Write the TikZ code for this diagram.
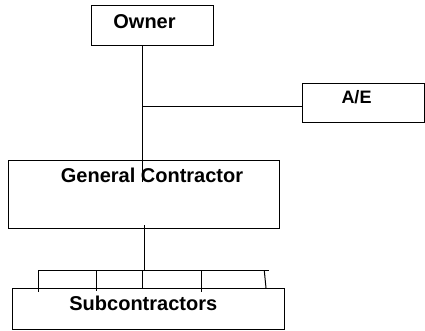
\documentclass[tikz,border=0pt]{standalone}
\usepackage{fontspec}
\setmainfont{Liberation Sans}
\begin{document}
\begin{tikzpicture}[x=1pt,y=-1pt,
  box/.style={draw=black,line width=1pt,inner sep=0pt,outer sep=0pt,fill=none},
  lbl/.style={inner sep=0pt,anchor=base,font=\fontsize{20}{23}\selectfont\bfseries},
  lblsmall/.style={inner sep=0pt,anchor=base,font=\fontsize{18}{21}\selectfont\bfseries},
  conn/.style={draw=black,line width=1pt}]
\useasboundingbox (0,0) rectangle (425,331);
% boxes
\node[box,minimum width=122pt,minimum height=40pt] (owner) at (152,26) {};
\node[box,minimum width=122pt,minimum height=39pt] (ae) at (363,103.5) {};
\node[box,minimum width=271pt,minimum height=67pt] (gc) at (143.5,194.5) {};
\node[box,minimum width=272pt,minimum height=41pt] (sub) at (148,308.5) {};
% labels
\node[lbl] (towner) at (144.5,28.3) {Owner};
\node[lblsmall] (tae) at (356.5,104) {A/E};
\node[lbl] (tgc) at (152,182.3) {General Contractor};
\node[lbl] (tsub) at (143.3,310.7) {Subcontractors};
% connector points
\coordinate (o1) at (142.3,46);
\coordinate (j1) at (142.3,107);
\coordinate (o2) at (142.3,182);
\coordinate (g1) at (144,225.3);
\coordinate (g2) at (144,270.7);
\coordinate (bl) at (38,270.7);
\coordinate (br) at (269.3,270.7);
\coordinate (t1) at (38,292.3);
\coordinate (t2a) at (96,270.7);
\coordinate (t2) at (96,290.7);
\coordinate (t3a) at (142.3,270.7);
\coordinate (t3) at (142.3,288);
\coordinate (t4a) at (201,270.7);
\coordinate (t4) at (201,291.7);
\coordinate (t5a) at (264.3,270.7);
\coordinate (t5) at (266,288);
% connectors
\draw[conn] (o1) -- (o2);
\draw[conn] (j1) -- (ae.west |- j1);
\draw[conn] (g1) -- (g2);
\draw[conn] (bl) -- (br);
\draw[conn] (bl) -- (t1);
\draw[conn] (t2a) -- (t2);
\draw[conn] (t3a) -- (t3);
\draw[conn] (t4a) -- (t4);
\draw[conn] (t5a) -- (t5);
\end{tikzpicture}
\end{document}
